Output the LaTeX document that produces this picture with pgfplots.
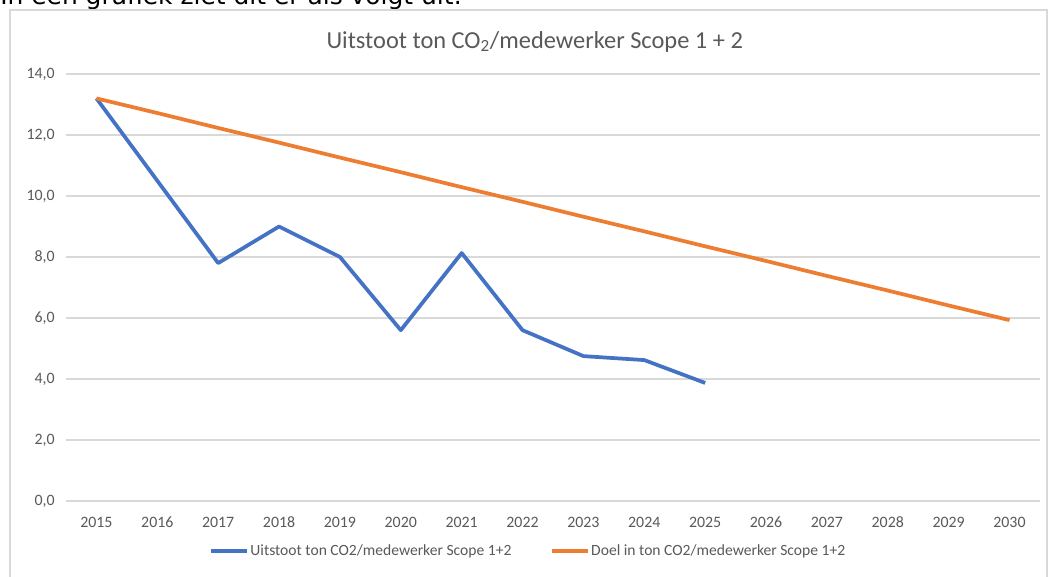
\documentclass[border=0pt]{standalone}
\usepackage{fontspec}
\setmainfont{Carlito}
\newfontfamily\dejavu{DejaVu Sans}
\usepackage{pgfplots}
\pgfplotsset{compat=1.18}
\definecolor{txtgray}{HTML}{595959}
\definecolor{gridgray}{HTML}{D9D9D9}
\definecolor{framegray}{HTML}{D9D9D9}
\definecolor{xlblue}{HTML}{4472C4}
\definecolor{xlorange}{HTML}{ED7D31}
\begin{document}
\begin{tikzpicture}
\useasboundingbox (0,0) rectangle (786pt,432.75pt);
\clip (0,0) rectangle (786pt,432.75pt);
% cropped text above chart
\node[anchor=base west, inner sep=0pt, font=\dejavu\fontsize{18.7}{21}\selectfont, text=black] at (0pt,429.2pt) {In een grafiek ziet dit er als volgt uit:};
% chart frame
\draw[framegray, line width=0.8pt] (7.5pt,-5pt) -- (7.5pt,425.25pt) -- (785.25pt,425.25pt) -- (785.25pt,-5pt);
% title
\node[anchor=center, inner sep=0pt, font=\fontsize{18.3}{21}\selectfont, text=txtgray] at (401pt,401.25pt) {Uitstoot ton CO\textsubscript{2}/medewerker Scope 1 + 2};
\begin{axis}[
  at={(49.5pt,57pt)}, anchor=south west,
  scale only axis, width=730.5pt, height=320.25pt,
  xmin=2014.5, xmax=2030.5, ymin=0, ymax=14,
  xtick={2015,...,2030}, ytick={0,2,...,14},
  axis line style={draw=none},
  major tick length=0pt,
  ymajorgrids, grid style={gridgray, line width=1pt},
  /pgf/number format/assume math mode=true,
  xticklabel style={font=\fontsize{11.9}{14}\selectfont, text=txtgray, /pgf/number format/1000 sep={}, text height=8pt, text depth=0pt, yshift=-8.5pt},
  yticklabel style={font=\fontsize{11.9}{14}\selectfont, text=txtgray, /pgf/number format/.cd, fixed, fixed zerofill, precision=1, use comma, /tikz/.cd, xshift=-5pt},
  legend style={at={(0.4743,-0.117)}, anchor=center, draw=none, fill=none,
    legend columns=2, font=\fontsize{11.7}{13}\selectfont, text=txtgray,
    /tikz/every even column/.append style={column sep=28pt},
    inner sep=0pt, nodes={inner sep=1pt}},
  legend image code/.code={\draw[#1] (0pt,0pt) -- (27pt,0pt);},
  legend cell align=left,
]
\addplot[xlblue, line width=2.8pt, line join=round] coordinates {
(2015,13.2) (2016,10.5) (2017,7.8) (2018,9.0) (2019,8.0) (2020,5.6)
(2021,8.13) (2022,5.6) (2023,4.75) (2024,4.62) (2025,3.87)};
\addlegendentry{Uitstoot ton CO2/medewerker Scope 1+2}
\addplot[xlorange, line width=2.8pt, line join=round] coordinates {
(2015,13.2) (2016,12.72) (2017,12.23) (2018,11.75) (2019,11.26) (2020,10.78)
(2021,10.29) (2022,9.81) (2023,9.32) (2024,8.84) (2025,8.35) (2026,7.87)
(2027,7.38) (2028,6.90) (2029,6.41) (2030,5.93)};
\addlegendentry{Doel in ton CO2/medewerker Scope 1+2}
\end{axis}
\end{tikzpicture}
\end{document}
